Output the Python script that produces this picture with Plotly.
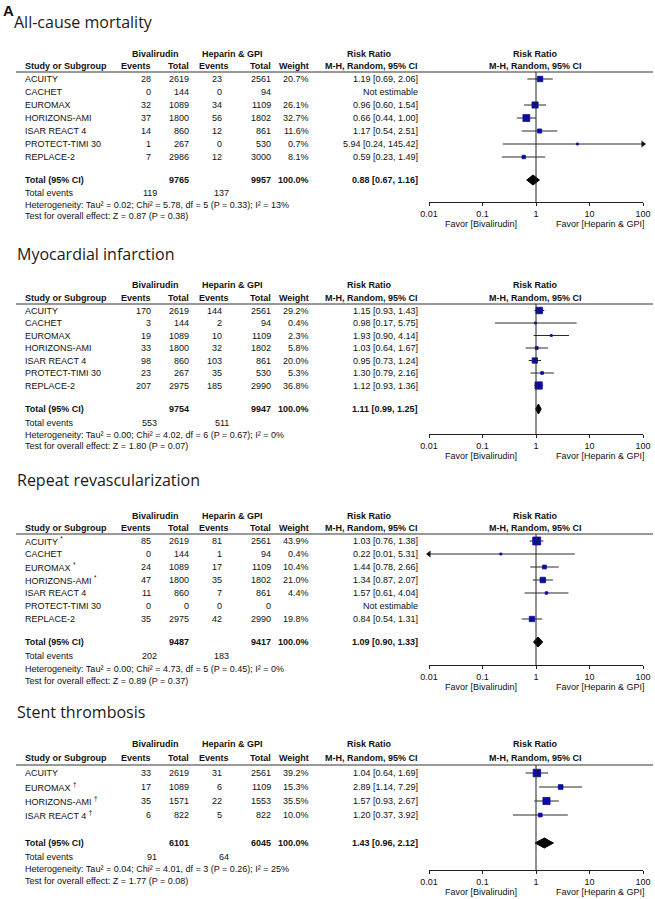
import math
import plotly.graph_objects as go

W, H = 655, 899
FONT = "Liberation Sans, Arial, sans-serif"
TFONT = "Open Sans, Noto Sans, sans-serif"
TXT = "#111111"
BLUE = "#0c0ca0"

# ---------------- data ----------------
mort_study = ["ACUITY", "CACHET", "EUROMAX", "HORIZONS-AMI", "ISAR REACT 4", "PROTECT-TIMI 30", "REPLACE-2"]
mort_biv_ev = [28, 0, 32, 37, 14, 1, 7]
mort_biv_tot = [2619, 144, 1089, 1800, 860, 267, 2986]
mort_hep_ev = [23, 0, 34, 56, 12, 0, 12]
mort_hep_tot = [2561, 94, 1109, 1802, 861, 530, 3000]
mort_weight = [20.7, None, 26.1, 32.7, 11.6, 0.7, 8.1]
mort_rr = [1.19, None, 0.96, 0.66, 1.17, 5.94, 0.59]
mort_lo = [0.69, None, 0.60, 0.44, 0.54, 0.24, 0.23]
mort_hi = [2.06, None, 1.54, 1.00, 2.51, 145.42, 1.49]
mort_totals = [9765, 9957]
mort_total_events = [119, 137]
mort_pooled = [0.88, 0.67, 1.16]
mort_het = "Heterogeneity: Tau² = 0.02; Chi² = 5.78, df = 5 (P = 0.33); I² = 13%"
mort_test = "Test for overall effect: Z = 0.87 (P = 0.38)"

mi_study = ["ACUITY", "CACHET", "EUROMAX", "HORIZONS-AMI", "ISAR REACT 4", "PROTECT-TIMI 30", "REPLACE-2"]
mi_biv_ev = [170, 3, 19, 33, 98, 23, 207]
mi_biv_tot = [2619, 144, 1089, 1800, 860, 267, 2975]
mi_hep_ev = [144, 2, 10, 32, 103, 35, 185]
mi_hep_tot = [2561, 94, 1109, 1802, 861, 530, 2990]
mi_weight = [29.2, 0.4, 2.3, 5.8, 20.0, 5.3, 36.8]
mi_rr = [1.15, 0.98, 1.93, 1.03, 0.95, 1.30, 1.12]
mi_lo = [0.93, 0.17, 0.90, 0.64, 0.73, 0.79, 0.93]
mi_hi = [1.43, 5.75, 4.14, 1.67, 1.24, 2.16, 1.36]
mi_totals = [9754, 9947]
mi_total_events = [553, 511]
mi_pooled = [1.11, 0.99, 1.25]
mi_het = "Heterogeneity: Tau² = 0.00; Chi² = 4.02, df = 6 (P = 0.67); I² = 0%"
mi_test = "Test for overall effect: Z = 1.80 (P = 0.07)"

rv_study = ["ACUITY <sup>*</sup>", "CACHET", "EUROMAX <sup>*</sup>", "HORIZONS-AMI <sup>*</sup>",
            "ISAR REACT 4", "PROTECT-TIMI 30", "REPLACE-2"]
rv_biv_ev = [85, 0, 24, 47, 11, 0, 35]
rv_biv_tot = [2619, 144, 1089, 1800, 860, 0, 2975]
rv_hep_ev = [81, 1, 17, 35, 7, 0, 42]
rv_hep_tot = [2561, 94, 1109, 1802, 861, 0, 2990]
rv_weight = [43.9, 0.4, 10.4, 21.0, 4.4, None, 19.8]
rv_rr = [1.03, 0.22, 1.44, 1.34, 1.57, None, 0.84]
rv_lo = [0.76, 0.01, 0.78, 0.87, 0.61, None, 0.54]
rv_hi = [1.38, 5.31, 2.66, 2.07, 4.04, None, 1.31]
rv_totals = [9487, 9417]
rv_total_events = [202, 183]
rv_pooled = [1.09, 0.90, 1.33]
rv_het = "Heterogeneity: Tau² = 0.00; Chi² = 4.73, df = 5 (P = 0.45); I² = 0%"
rv_test = "Test for overall effect: Z = 0.89 (P = 0.37)"

st_study = ["ACUITY", "EUROMAX <sup>†</sup>", "HORIZONS-AMI <sup>†</sup>", "ISAR REACT 4 <sup>†</sup>"]
st_biv_ev = [33, 17, 35, 6]
st_biv_tot = [2619, 1089, 1571, 822]
st_hep_ev = [31, 6, 22, 5]
st_hep_tot = [2561, 1109, 1553, 822]
st_weight = [39.2, 15.3, 35.5, 10.0]
st_rr = [1.04, 2.89, 1.57, 1.20]
st_lo = [0.64, 1.14, 0.93, 0.37]
st_hi = [1.69, 7.29, 2.67, 3.92]
st_totals = [6101, 6045]
st_total_events = [91, 64]
st_pooled = [1.43, 0.96, 2.12]
st_het = "Heterogeneity: Tau² = 0.04; Chi² = 4.01, df = 3 (P = 0.26); I² = 25%"
st_test = "Test for overall effect: Z = 1.77 (P = 0.08)"

titles = ["All-cause mortality", "Myocardial infarction", "Repeat revascularization", "Stent thrombosis"]
tick_vals = [0.01, 0.1, 1, 10, 100]
tick_text = ["0.01", "0.1", "1", "10", "100"]
favor_labels = ["Favor [Bivalirudin]", "Favor [Heparin & GPI]"]

datasets = [
    (mort_study, mort_biv_ev, mort_biv_tot, mort_hep_ev, mort_hep_tot, mort_weight, mort_rr, mort_lo, mort_hi,
     mort_totals, mort_total_events, mort_pooled, mort_het, mort_test),
    (mi_study, mi_biv_ev, mi_biv_tot, mi_hep_ev, mi_hep_tot, mi_weight, mi_rr, mi_lo, mi_hi,
     mi_totals, mi_total_events, mi_pooled, mi_het, mi_test),
    (rv_study, rv_biv_ev, rv_biv_tot, rv_hep_ev, rv_hep_tot, rv_weight, rv_rr, rv_lo, rv_hi,
     rv_totals, rv_total_events, rv_pooled, rv_het, rv_test),
    (st_study, st_biv_ev, st_biv_tot, st_hep_ev, st_hep_tot, st_weight, st_rr, st_lo, st_hi,
     st_totals, st_total_events, st_pooled, st_het, st_test),
]

# ---------------- layout positions (pixels) ----------------
geo = [
    dict(tx=13, title=22, h1=54, h2=66, rule=72, row0=79, step=13, total=180, te=193, het=205, test=216, axis=202),
    dict(tx=16, title=254, h1=285, h2=298, rule=304, row0=310.5, step=12.5, total=409, te=423, het=435, test=446, axis=434),
    dict(tx=16, title=480, h1=516, h2=528, rule=534, row0=541, step=13, total=642, te=656, het=669, test=681, axis=665),
    dict(tx=16, title=712, h1=744, h2=758, rule=765, row0=773, step=14, total=843, te=857, het=869, test=881, axis=870),
]

X_STUDY = 24
X_BEV = 152
X_BTOT = 190
X_HEV = 223
X_HEV_HDR = 230
X_HTOT = 272
X_WT = 310
X_RR = 419
X_RR_HDR = 369
X_FOREST_HDR = 535
X_TE1 = 158
X_TE2 = 230
AX_L, AX_R = 429, 643
LOGMIN, LOGMAX = -2, 2

ann = []
shapes = []
traces = []


def py(y):
    return 1 - y / H


def txt(x, y, s, anchor="left", size=9, bold=False, family=FONT, color=TXT):
    if bold:
        s = "<b>" + s + "</b>"
    ann.append(dict(x=x / W, y=py(y), xref="paper", yref="paper", text=s, showarrow=False,
                    xanchor=anchor, yanchor="middle", borderpad=0,
                    font=dict(family=family, size=size, color=color)))


def fmt_rr(r, l, h):
    return f"{r:.2f} [{l:.2f}, {h:.2f}]"


txt(2, 10, "A", size=15, bold=True)

layout_axes = {}
for k, (g, d) in enumerate(zip(geo, datasets)):
    (study, bev, btot, hev, htot, wt, rr, lo, hi, tots, tevs, pooled, het, test) = d
    sfx = "" if k == 0 else str(k + 1)
    xa, ya = "x" + sfx, "y" + sfx
    top = g["rule"] - 10

    txt(g["tx"], g["title"], titles[k], size=16, family=TFONT, color="#1a1a1a")

    txt(155, g["h1"], "Bivalirudin", anchor="center", bold=True)
    txt(232, g["h1"], "Heparin & GPI", anchor="center", bold=True)
    txt(X_RR_HDR, g["h1"], "Risk Ratio", anchor="center", bold=True)
    txt(X_FOREST_HDR, g["h1"], "Risk Ratio", anchor="center", bold=True)
    txt(X_STUDY, g["h2"], "Study or Subgroup", bold=True)
    txt(X_BEV, g["h2"], "Events", anchor="right", bold=True)
    txt(X_BTOT, g["h2"], "Total", anchor="right", bold=True)
    txt(X_HEV_HDR, g["h2"], "Events", anchor="right", bold=True)
    txt(X_HTOT, g["h2"], "Total", anchor="right", bold=True)
    txt(X_WT, g["h2"], "Weight", anchor="right", bold=True)
    txt(X_RR_HDR + 2, g["h2"], "M-H, Random, 95% CI", anchor="center", bold=True)
    txt(X_FOREST_HDR, g["h2"], "M-H, Random, 95% CI", anchor="center", bold=True)

    shapes.append(dict(type="line", xref="paper", yref="paper", x0=16 / W, x1=653 / W,
                       y0=py(g["rule"]), y1=py(g["rule"]), line=dict(color="#333", width=1)))

    ys = [g["row0"] + i * g["step"] for i in range(len(study))]
    ci_x, ci_y = [], []
    sq_x, sq_y, sq_s = [], [], []
    ar_r_x, ar_r_y, ar_l_x, ar_l_y = [], [], [], []
    for i, y in enumerate(ys):
        txt(X_STUDY, y, study[i])
        txt(X_BEV, y, str(bev[i]), anchor="right")
        txt(X_BTOT, y, str(btot[i]), anchor="right")
        txt(X_HEV, y, str(hev[i]), anchor="right")
        txt(X_HTOT, y, str(htot[i]), anchor="right")
        if wt[i] is not None:
            txt(X_WT, y, f"{wt[i]:.1f}%", anchor="right")
        if rr[i] is None:
            txt(X_RR, y, "Not estimable", anchor="right")
            continue
        txt(X_RR, y, fmt_rr(rr[i], lo[i], hi[i]), anchor="right")
        l = max(lo[i], 10 ** LOGMIN)
        h = min(hi[i], 10 ** LOGMAX)
        ci_x += [l, h, None]
        ci_y += [y, y, None]
        if hi[i] > 10 ** LOGMAX:
            ar_r_x.append(h)
            ar_r_y.append(y)
        if lo[i] <= 10 ** LOGMIN:
            ar_l_x.append(l)
            ar_l_y.append(y)
        sq_x.append(rr[i])
        sq_y.append(y)
        sq_s.append(max(2.0, 1.2 * math.sqrt(wt[i])))

    traces.append(go.Scatter(x=ci_x, y=ci_y, mode="lines", xaxis=xa, yaxis=ya,
                             line=dict(color="#2a2a2a", width=1), hoverinfo="skip", showlegend=False))
    traces.append(go.Scatter(x=sq_x, y=sq_y, mode="markers", xaxis=xa, yaxis=ya,
                             marker=dict(symbol="square", size=sq_s, color=BLUE, opacity=1,
                                         line=dict(width=0.8, color=BLUE)),
                             hoverinfo="skip", showlegend=False, cliponaxis=False))
    if ar_r_x:
        traces.append(go.Scatter(x=ar_r_x, y=ar_r_y, mode="markers", xaxis=xa, yaxis=ya,
                                 marker=dict(symbol="triangle-right", size=6, color="#111"),
                                 hoverinfo="skip", showlegend=False, cliponaxis=False))
    if ar_l_x:
        traces.append(go.Scatter(x=ar_l_x, y=ar_l_y, mode="markers", xaxis=xa, yaxis=ya,
                                 marker=dict(symbol="triangle-left", size=6, color="#111"),
                                 hoverinfo="skip", showlegend=False, cliponaxis=False))

    ty = g["total"]
    txt(X_STUDY, ty, "Total (95% CI)", bold=True)
    txt(X_BTOT, ty, str(tots[0]), anchor="right", bold=True)
    txt(X_HTOT, ty, str(tots[1]), anchor="right", bold=True)
    txt(X_WT, ty, "100.0%", anchor="right", bold=True)
    txt(X_RR, ty, fmt_rr(*pooled), anchor="right", bold=True)
    txt(X_STUDY, g["te"], "Total events")
    txt(X_TE1, g["te"], str(tevs[0]), anchor="right")
    txt(X_TE2, g["te"], str(tevs[1]), anchor="right")
    txt(X_STUDY, g["het"], het)
    txt(X_STUDY, g["test"], test)

    pr, pl, ph = pooled
    traces.append(go.Scatter(x=[pl, pr, ph, pr, pl], y=[ty, ty - 5, ty, ty + 5, ty], mode="lines",
                             fill="toself", fillcolor="#000", line=dict(color="#000", width=1),
                             xaxis=xa, yaxis=ya, hoverinfo="skip", showlegend=False))

    shapes.append(dict(type="line", xref=xa, yref=ya, x0=1, x1=1, y0=g["rule"], y1=g["axis"],
                       line=dict(color="#222", width=1)))

    layout_axes["xaxis" + sfx] = dict(domain=[AX_L / W, AX_R / W], type="log", range=[LOGMIN, LOGMAX],
                                      anchor=ya, side="bottom",
                                      showline=True, linecolor="#222", linewidth=1,
                                      ticks="outside", ticklen=3, tickcolor="#222",
                                      tickvals=tick_vals, ticktext=tick_text,
                                      tickfont=dict(family=FONT, size=9, color=TXT),
                                      showgrid=False, zeroline=False, fixedrange=True, automargin=False)
    layout_axes["yaxis" + sfx] = dict(domain=[py(g["axis"]), py(top)], range=[g["axis"], top],
                                      anchor=xa, visible=False, fixedrange=True, automargin=False)
    txt(481, g["axis"] + 22, favor_labels[0], anchor="center")
    txt(600, g["axis"] + 22, favor_labels[1], anchor="center")

fig = go.Figure(data=traces)
fig.update_layout(
    width=W, height=H, margin=dict(l=0, r=0, t=0, b=0, pad=0, autoexpand=False),
    paper_bgcolor="white", plot_bgcolor="white",
    annotations=ann, shapes=shapes, showlegend=False,
    **layout_axes,
)
fig.write_html("out.html", config={"displayModeBar": False},
               post_script="document.body.style.margin='0';document.body.style.overflow='hidden';")
